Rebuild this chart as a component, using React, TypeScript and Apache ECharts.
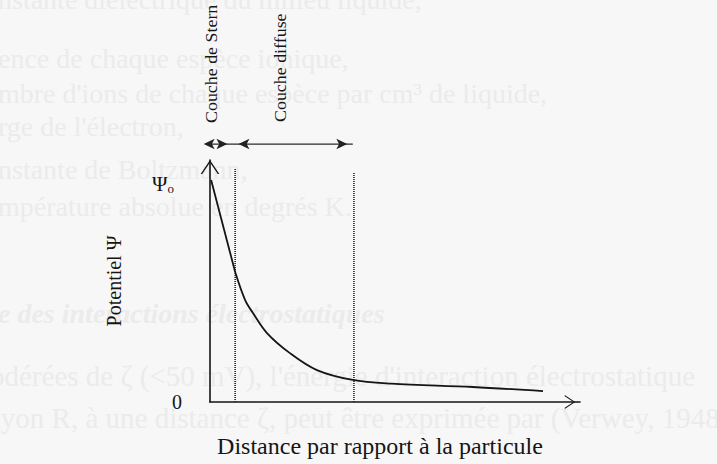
import React, { useEffect, useRef } from "react";
import * as echarts from "echarts";

// ---- data ----
const sternProfile: [number, number][] = [
  [0.03, 91.7],
  [0.68, 53.7],
];
const diffuseProfile: [number, number][] = [
  [0.68, 53.7],
  [0.95, 42.1],
  [1.16, 36.8],
  [1.54, 28.5],
  [2.16, 20.2],
  [2.89, 13.2],
  [3.86, 9.1],
  [4.9, 7.6],
  [7.1, 6.2],
  [9.0, 4.5],
];
const layerBounds = [0.68, 3.89];
const boundTops = [96.7, 94.6];
const arrowLevel = 106.6;
const sternSpan = [-0.32, 0.62];
const diffuseSpan = [0.62, 3.86];
const psi0Value = 90;
const yTickValues = [0, psi0Value];
const layerNames = ["Couche de Stern", "Couche diffuse"];
const xTitle = "Distance par rapport à la particule";
const yTitle = "Potentiel Ψ";
const bleedLines = [
  "nstante diélectrique du milieu liquide,",
  "ence de chaque espèce ionique,",
  "mbre d'ions de chaque espèce par cm³ de liquide,",
  "rge de l'électron,",
  "nstante de Boltzmann,",
  "mpérature absolue en degrés K.",
  "e des interactions électrostatiques",
  "odérées de ζ (<50 mV), l'énergie d'interaction électrostatique",
  "ayon R, à une distance ζ, peut être exprimée par (Verwey, 1948",
];

// ---- layout / style ----
const W = 717;
const H = 464;
const FONT = "'Liberation Serif', 'DejaVu Serif', serif";
const INK = "#151515";
const bleedBaselines = [13, 72, 107, 140, 183, 220, 327, 390, 432];
const bleedX = [-2, -2, -2, -2, -2, -2, -2, -10, -12];
const chevronUp = "path://M0,15 L10,0 L20,15 L18.3,15 L10,2.6 L1.7,15 Z";

function arrowSeries(span: number[]) {
  return {
    type: "line",
    clip: false,
    silent: true,
    symbol: "arrow",
    symbolSize: [8, 11],
    lineStyle: { color: "#2a2a2a", width: 1.2 },
    itemStyle: { color: "#222" },
    data: [
      { value: [span[0], arrowLevel], symbolRotate: 90, symbolOffset: [5.5, 0] },
      { value: [span[1], arrowLevel], symbolRotate: -90, symbolOffset: [-5.5, 0] },
    ],
    z: 5,
  };
}

export default function App() {
  const ref = useRef<HTMLDivElement>(null);
  useEffect(() => {
    if (!ref.current) return;
    const chart = echarts.init(ref.current, undefined, { renderer: "svg" });

    const bleed = bleedLines.map((t, i) => ({
      type: "text",
      silent: true,
      z: -10,
      x: bleedX[i],
      y: bleedBaselines[i],
      style: {
        text: t,
        fill: "#ebebeb",
        fontSize: i >= 7 ? 29 : 28,
        fontFamily: FONT,
        fontStyle: i === 6 ? "italic" : "normal",
        fontWeight: i === 6 ? "bold" : "normal",
        verticalAlign: "bottom",
      },
    }));

    const layerLabelPos = [
      [212, 123],
      [281, 122],
    ];
    const layerLabels = layerNames.map((t, i) => ({
      type: "text",
      silent: true,
      x: layerLabelPos[i][0],
      y: layerLabelPos[i][1],
      rotation: Math.PI / 2,
      scaleX: 1.12,
      style: {
        text: t,
        fill: INK,
        fontSize: 16,
        fontFamily: FONT,
        align: "left",
        verticalAlign: "middle",
      },
    }));

    chart.setOption({
      animation: false,
      backgroundColor: "#f7f7f7",
      grid: { left: 210, top: 160, width: 370, height: 242, outerBoundsMode: "none" },
      graphic: [...bleed, ...layerLabels],
      xAxis: {
        type: "value",
        min: 0,
        max: 10,
        splitLine: { show: false },
        axisTick: { show: false },
        axisLabel: { show: false },
        axisLine: {
          show: true,
          symbol: ["none", chevronUp],
          symbolSize: [14, 20],
          symbolOffset: [0, -10],
          lineStyle: { color: INK, width: 1.6 },
        },
        name: xTitle,
        nameLocation: "middle",
        nameGap: 32,
        nameTextStyle: {
          fontFamily: FONT,
          fontSize: 24,
          color: INK,
          padding: [0, 30, 0, 0],
        },
      },
      yAxis: {
        type: "value",
        min: 0,
        max: 100,
        splitLine: { show: false },
        axisTick: { show: false },
        axisLine: {
          show: true,
          symbol: ["none", chevronUp],
          symbolSize: [20, 14],
          symbolOffset: [0, -7],
          lineStyle: { color: INK, width: 1.6 },
        },
        axisLabel: {
          customValues: yTickValues,
          margin: 28,
          formatter: (v: number) => (v === 0 ? "{z|0}" : "{p|Ψ}{s|o}"),
          rich: {
            z: { fontFamily: FONT, fontSize: 20, color: INK },
            p: { fontFamily: FONT, fontSize: 21, color: INK },
            s: {
              fontFamily: FONT,
              fontSize: 13,
              color: INK,
              verticalAlign: "bottom",
              padding: [0, 8, 0, 0],
            },
          },
        },
        name: yTitle,
        nameLocation: "middle",
        nameRotate: 90,
        nameGap: 86,
        nameTextStyle: { fontFamily: FONT, fontSize: 20, color: INK },
      },
      series: [
        {
          type: "line",
          data: sternProfile,
          symbol: "none",
          silent: true,
          clip: false,
          lineStyle: { color: INK, width: 1.8 },
          z: 4,
        },
        {
          type: "line",
          data: diffuseProfile,
          symbol: "none",
          smooth: 0.35,
          silent: true,
          clip: false,
          lineStyle: { color: INK, width: 1.8 },
          z: 4,
        },
        ...layerBounds.map((b, i) => ({
          type: "line",
          data: [
            [b, 0],
            [b, boundTops[i]],
          ],
          symbol: "none",
          silent: true,
          clip: false,
          lineStyle: { color: "#222", width: 1.6, type: [1, 1] },
          z: 3,
        })),
        arrowSeries(sternSpan),
        arrowSeries(diffuseSpan),
      ],
    });
    return () => chart.dispose();
  }, []);

  return (
    <div
      ref={ref}
      style={{ position: "fixed", left: 0, top: 0, width: W, height: H, background: "#f7f7f7" }}
    />
  );
}
